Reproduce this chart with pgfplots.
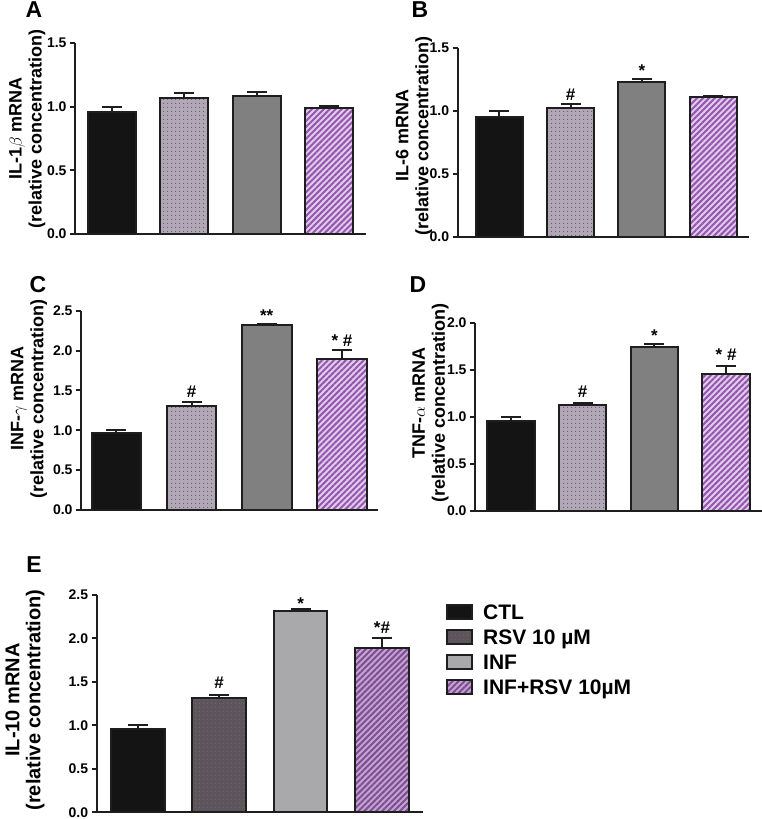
\documentclass[border=0pt]{standalone}
\usepackage{fontspec}
\setmainfont{Liberation Sans}
\usepackage{pgfplots}
\pgfplotsset{compat=1.18}
\usetikzlibrary{patterns.meta}
\definecolor{outl}{HTML}{1E1E1E}
\definecolor{cA}{HTML}{141414}
\definecolor{cBbg}{HTML}{B0A8B4}
\definecolor{cBdot}{HTML}{6E5079}
\definecolor{cC}{HTML}{808080}
\definecolor{cDbg}{HTML}{E2CBEC}
\definecolor{cDln}{HTML}{9457AE}
\definecolor{eBbg}{HTML}{5C555A}
\definecolor{eBdot}{HTML}{7A5C86}
\definecolor{eC}{HTML}{A9A9AB}
\definecolor{eDbg}{HTML}{C3A5D0}
\definecolor{eDln}{HTML}{7E4D94}
\pgfplotsset{
  base/.style={
    scale only axis, anchor=south west, ybar, ymin=0, xtick=\empty,
    axis lines=left, axis line style={line width=2pt, -, color=outl},
    ytick style={line width=2pt, color=outl}, tick align=outside, major tick length=5pt,
    y tick label style={font=\fontsize{14}{14}\selectfont\bfseries, /pgf/number format/.cd, fixed, fixed zerofill, precision=1, assume math mode=true, /tikz/.cd},
    clip=false,
    ylabel style={align=center, anchor=center, font=\fontsize{18}{20}\selectfont\bfseries},
  },
  eb/.style={error bars/y dir=plus, error bars/y explicit,
    error bars/error bar style={line width=2pt, color=outl},
    error bars/error mark options={rotate=90, line width=2pt, mark size=10pt, color=outl}},
  bb/.style={draw=outl, line width=2pt, bar shift=0pt, bar width=0.66, eb},
  b1/.style={bb, fill=cA},
  b2/.style={bb, preaction={fill=cBbg}, pattern={Dots[distance=4pt, radius=0.65pt]}, pattern color=cBdot},
  b3/.style={bb, fill=cC},
  b4/.style={bb, preaction={fill=cDbg}, pattern={Lines[angle=45, distance=4.2pt, line width=2pt]}, pattern color=cDln},
  e1/.style={bb, fill=cA, leg},
  e2/.style={bb, preaction={fill=eBbg}, pattern={Dots[distance=4pt, radius=0.65pt]}, pattern color=eBdot, leg},
  e3/.style={bb, fill=eC, leg},
  e4/.style={bb, preaction={fill=eDbg}, pattern={Lines[angle=45, distance=4.2pt, line width=2pt]}, pattern color=eDln, leg},
  leg/.style={legend image code/.code={\draw[##1] (0pt,0pt) rectangle (25pt,14pt);}},
}
\tikzset{ann/.style={font=\fontsize{17}{17}\selectfont\bfseries, anchor=center, inner sep=0pt},
  star/.style={ann, yshift=-3pt},
  plab/.style={font=\fontsize{23}{23}\selectfont\bfseries, anchor=center, inner sep=0pt}}
\begin{document}
\begin{tikzpicture}[x=1pt,y=1pt]
\useasboundingbox (0,0) rectangle (762,819);
\node[plab] at (34,809) {A};
\node[plab] at (420,809) {B};
\node[plab] at (38,534) {C};
\node[plab] at (418,534) {D};
\node[plab] at (34,254) {E};
% Panel A
\begin{axis}[base, at={(75pt,585pt)}, width=291pt, height=191pt,
  xmin=-0.51, xmax=3.51, ymax=1.5, ytick={0,0.5,1,1.5},
  ylabel={IL-1$\beta$ mRNA\\(relative concentration)},
  ylabel style={at={(axis description cs:-0.164,0.552)}}]
\addplot[b1] coordinates {(0,0.955) +- (0,0.045)};
\addplot[b2] coordinates {(1,1.07) +- (0,0.035)};
\addplot[b3] coordinates {(2,1.08) +- (0,0.035)};
\addplot[b4] coordinates {(3,0.99) +- (0,0.015)};
\end{axis}
% Panel B
\begin{axis}[base, at={(457.7pt,582.3pt)}, width=291.3pt, height=189pt,
  xmin=-0.58, xmax=3.5, ymax=1.5, ytick={0,0.5,1,1.5},
  ylabel={IL-6 mRNA\\(relative concentration)},
  ylabel style={at={(axis description cs:-0.150,0.533)}}]
\addplot[b1] coordinates {(0,0.95) +- (0,0.05)};
\addplot[b2] coordinates {(1,1.02) +- (0,0.03)};
\addplot[b3] coordinates {(2,1.23) +- (0,0.02)};
\addplot[b4] coordinates {(3,1.11) +- (0,0.01)};
\node[ann] at (axis cs:1,1.13) {\#};
\node[star] at (axis cs:2,1.34) {*};
\end{axis}
% Panel C
\begin{axis}[base, at={(81pt,309pt)}, width=297pt, height=199.3pt,
  xmin=-0.47, xmax=3.48, ymax=2.5, ytick={0,0.5,1,1.5,2,2.5},
  ylabel={INF-$\gamma$ mRNA\\(relative concentration)},
  ylabel style={at={(axis description cs:-0.175,0.559)}}]
\addplot[b1] coordinates {(0,0.96) +- (0,0.04)};
\addplot[b2] coordinates {(1,1.31) +- (0,0.04)};
\addplot[b3] coordinates {(2,2.32) +- (0,0.015)};
\addplot[b4] coordinates {(3,1.89) +- (0,0.12)};
\node[ann] at (axis cs:1,1.48) {\#};
\node[star] at (axis cs:2,2.47) {**};
\node[ann] at (axis cs:3,2.12) {* \#};
\end{axis}
% Panel D
\begin{axis}[base, at={(475pt,308.3pt)}, width=287pt, height=188pt,
  xmin=-0.5, xmax=3.5, ymax=2.0, ytick={0,0.5,1,1.5,2},
  ylabel={TNF-$\alpha$ mRNA\\(relative concentration)},
  ylabel style={at={(axis description cs:-0.155,0.573)}}]
\addplot[b1] coordinates {(0,0.955) +- (0,0.045)};
\addplot[b2] coordinates {(1,1.125) +- (0,0.025)};
\addplot[b3] coordinates {(2,1.74) +- (0,0.03)};
\addplot[b4] coordinates {(3,1.45) +- (0,0.09)};
\node[ann] at (axis cs:1,1.27) {\#};
\node[star] at (axis cs:2,1.89) {*};
\node[ann] at (axis cs:3,1.66) {* \#};
\end{axis}
% Panel E
\begin{axis}[base, at={(96.7pt,6.7pt)}, width=326pt, height=217.3pt,
  xmin=-0.505, xmax=3.5, ymax=2.5, ytick={0,0.5,1,1.5,2,2.5},
  ylabel={IL-10 mRNA\\(relative concentration)},
  ylabel style={at={(axis description cs:-0.22,0.517)}, font=\fontsize{20}{21}\selectfont\bfseries},
  legend style={at={(axis description cs:1.0715,0.9586)}, anchor=north west, draw=none, fill=none,
    inner sep=0pt, row sep=6pt, font=\fontsize{21}{21}\selectfont\bfseries,
    cells={anchor=base west},
    nodes={inner sep=0pt, text height=15pt, text depth=4pt},
    /tikz/every odd column/.append style={column sep=10pt}}]
\addplot[e1] coordinates {(0,0.955) +- (0,0.05)};
\addlegendentry{CTL}
\addplot[e2] coordinates {(1,1.31) +- (0,0.045)};
\addlegendentry{RSV 10 µM}
\addplot[e3] coordinates {(2,2.32) +- (0,0.02)};
\addlegendentry{INF}
\addplot[e4] coordinates {(3,1.89) +- (0,0.12)};
\addlegendentry{INF+RSV 10µM}
\node[ann] at (axis cs:1,1.49) {\#};
\node[star] at (axis cs:2,2.44) {*};
\node[ann] at (axis cs:3,2.12) {*\#};
\end{axis}
\end{tikzpicture}
\end{document}
